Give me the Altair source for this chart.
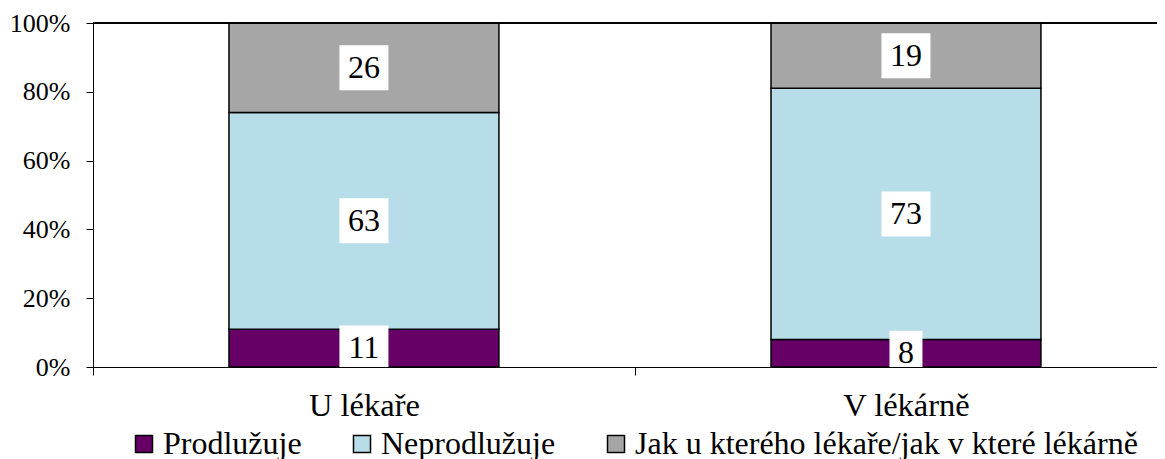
import altair as alt
import pandas as pd

categories = ["U lékaře", "V lékárně"]
series = ["Prodlužuje", "Neprodlužuje", "Jak u kterého lékaře/jak v které lékárně"]
prodluzuje = [11, 8]
neprodluzuje = [63, 73]
jak = [26, 19]
colors = ["#660066", "#B7DEE8", "#A6A6A6"]
y_ticks = [0, 0.2, 0.4, 0.6, 0.8, 1.0]

PLOT_W, PLOT_H = 1064, 344
FONT = "Liberation Serif"
LABEL_SIZE = 32
BOX_H = 45

rows = []
for ci, cat in enumerate(categories):
    vals = [prodluzuje[ci], neprodluzuje[ci], jak[ci]]
    total = sum(vals)
    cum = 0
    for si, (s, v) in enumerate(zip(series, vals)):
        mid = (cum + v / 2) / total
        cum += v
        half = BOX_H / 2 / PLOT_H
        rows.append(dict(cat=cat, series=s, ord=si, value=v, label=str(v),
                         mid=mid, lo=mid - half, hi=mid + half,
                         boxw=len(str(v)) * LABEL_SIZE * 0.5 + 17))
df = pd.DataFrame(rows)

x_axis = alt.Axis(title=None, labelAngle=0, tickSize=8, tickOffset=-271,
                  labelOffset=271, labelPadding=14, labelFontSize=32.5,
                  labelFont=FONT, labelColor="black", domainColor="black",
                  tickColor="black", grid=False)
y_axis = alt.Axis(title=None, values=y_ticks, format=".0%", grid=False,
                  tickSize=7, labelPadding=16, labelFontSize=26,
                  labelFont=FONT, labelColor="black",
                  domainColor="black", tickColor="black")
x_scale = alt.Scale(paddingInner=0.502, paddingOuter=0.2325, align=0.5395)
y_scale = alt.Scale(domain=[0, 1], nice=False)


def xe():
    return alt.X("cat:N", sort=categories, scale=x_scale, axis=x_axis)


base = alt.Chart(df)

bars = base.mark_bar(stroke="black", strokeWidth=1.5).encode(
    x=xe(),
    y=alt.Y("value:Q", stack="normalize", scale=y_scale, axis=y_axis),
    color=alt.Color("series:N", sort=series,
                    scale=alt.Scale(domain=series, range=colors),
                    legend=alt.Legend(title=None, orient="none", legendX=35,
                                      legendY=405, direction="horizontal",
                                      columnPadding=44, labelOffset=3,
                                      symbolType="square", symbolSize=289,
                                      symbolStrokeColor="black",
                                      symbolStrokeWidth=1.5, labelFontSize=32,
                                      labelFont=FONT, labelColor="black",
                                      labelLimit=1000)),
    order=alt.Order("ord:Q"),
)

top_rule = base.mark_rule(color="black", strokeWidth=1).encode(
    y=alt.Y(datum=1, scale=y_scale, axis=y_axis)
)

boxes = base.mark_bar(color="white", clip=True).encode(
    x=xe(),
    y=alt.Y("lo:Q", scale=y_scale, axis=y_axis),
    y2="hi:Q",
    size=alt.Size("boxw:Q", scale=None, legend=None),
)

texts = base.mark_text(font=FONT, fontSize=LABEL_SIZE, color="black",
                       baseline="middle").encode(
    x=xe(),
    y=alt.Y("mid:Q", scale=y_scale, axis=y_axis),
    text="label:N",
)

chart = alt.layer(bars, top_rule, boxes, texts).properties(
    width=PLOT_W, height=PLOT_H,
    autosize=alt.AutoSizeParams(type="none"),
    padding={"left": 85, "top": 15, "right": 0, "bottom": 100},
).configure_view(stroke=None)

chart.save("out.html", embed_options={"renderer": "svg", "actions": False})
